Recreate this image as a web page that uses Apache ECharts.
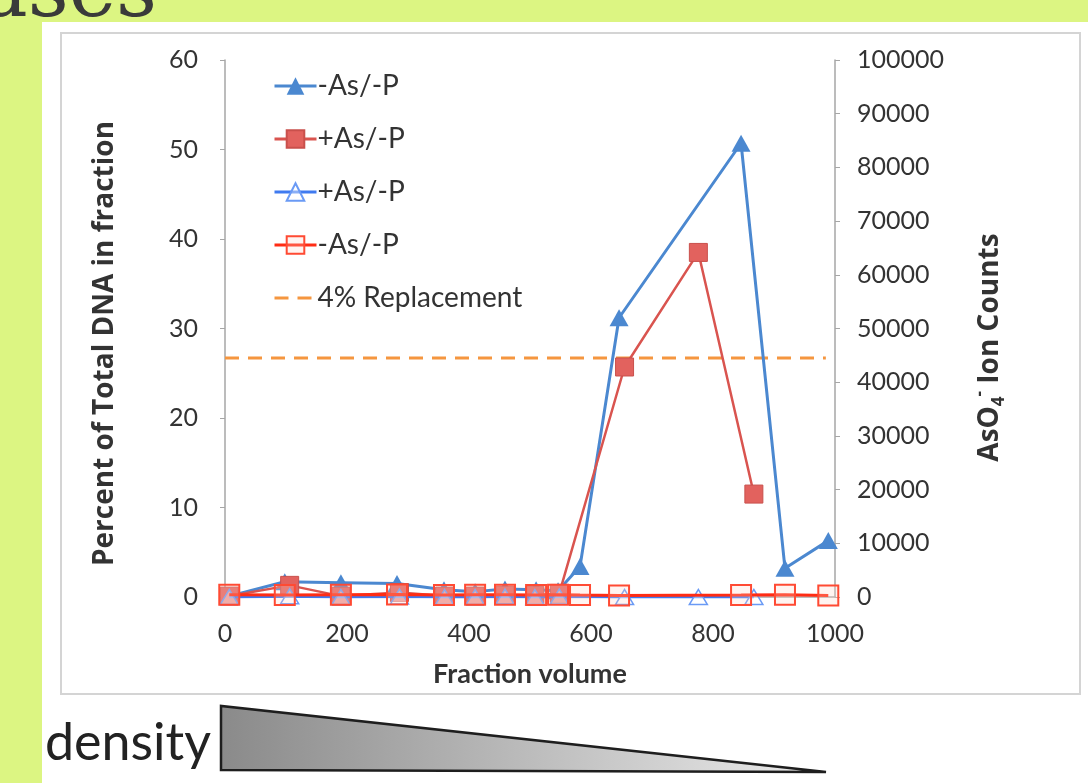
<!DOCTYPE html>
<html><head><meta charset="utf-8">
<script src="https://cdn.jsdelivr.net/npm/echarts@6.0.0/dist/echarts.min.js"></script>
<style>html,body{margin:0;padding:0;background:#dcf582;}#c{width:1088px;height:783px;}</style>
</head><body><div id="c"></div>
<script>
// Fraction volumes (x) for each condition
const minusAsX   = [7, 98, 190, 282, 359, 410, 459, 510, 546, 582, 646, 846, 918, 989];
const minusAsDNA = [0.1, 1.7, 1.6, 1.5, 0.8, 0.6, 0.9, 0.8, 0.7, 3.4, 31.2, 50.7, 3.2, 6.3];
const minusAsIon = [400, 350, 400, 450, 350, 400, 400, 350, 400, 350, 300, 350, 400, 300];

const plusAsX    = [7, 106, 190, 286, 360, 410, 459, 508, 548, 655, 776, 867];
const plusAsDNA  = [0.1, 1.3, 0.1, 0.5, 0.1, 0.1, 0.2, 0.2, 0.4, 25.7, 38.5, 11.5];
const plusAsIon  = [0, 150, 0, 100, 0, 0, 100, 0, 100, 0, 0, 0];

const replacementX = [0, 985];
const replacementY = [44500, 44500];

const xTicks = [0, 200, 400, 600, 800, 1000];
const legendLabels = {a: '-As/-P', b: '+As/-P', c: '+As/-P', d: '-As/-P', rep: '4% Replacement'};

const pairs = (xs, ys) => xs.map((x, i) => [x, ys[i]]);

const FONT = 'Lato, "Open Sans", sans-serif';
const VFONT = '"Open Sans", Lato, sans-serif';
const TXT = '#333333';
const chart = echarts.init(document.getElementById('c'));
chart.setOption({
  animation: false,
  backgroundColor: 'transparent',
  textStyle: {fontFamily: FONT},
  graphic: [
    {type: 'rect', z: -20, shape: {x: 42, y: 22, width: 1046, height: 761}, style: {fill: '#ffffff'}},
    {type: 'rect', z: -19, shape: {x: 61, y: 33, width: 1019, height: 661}, style: {fill: 'none', stroke: '#d4d4d4', lineWidth: 2}},
    {type: 'text', z: 5, style: {text: 'ases', x: -20, y: -5, fill: '#3a3a3a', font: '80px "DejaVu Serif", serif', verticalAlign: 'middle'}},
    {type: 'text', z: 5, style: {text: 'density', x: 45, y: 743, fill: '#222', font: '52px Lato, sans-serif', verticalAlign: 'middle'}},
    {type: 'polygon', z: 5, shape: {points: [[221, 706], [221, 770], [826, 772]]},
      style: {fill: new echarts.graphic.LinearGradient(0, 0, 1, 0, [{offset: 0, color: '#8a8a8a'}, {offset: 1, color: '#ececec'}]), stroke: '#1e1e1e', lineWidth: 2.5}}
  ],
  grid: {left: 225, right: 253, top: 60, bottom: 186, containLabel: false},
  legend: {
    orient: 'vertical', left: 268, top: 67, itemWidth: 42, itemHeight: 22, itemGap: 25,
    data: ['a', 'b', 'c', 'd', {name: 'rep', itemStyle: {opacity: 0}}],
    formatter: n => legendLabels[n],
    lineStyle: {width: 3},
    textStyle: {fontSize: 28, color: TXT, fontFamily: FONT, padding: [0, 0, 0, -4]}
  },
  xAxis: {
    type: 'value', min: 0, max: 1000, interval: 200,
    name: 'Fraction volume', nameLocation: 'middle', nameGap: 64,
    nameTextStyle: {fontSize: 27, fontWeight: 'bold', color: '#333', fontFamily: FONT},
    axisLine: {lineStyle: {color: '#a6a6a6', width: 1.5}},
    axisTick: {show: false},
    axisLabel: {fontSize: 25, color: TXT, margin: 24, formatter: v => xTicks.includes(v) ? String(v) : ''},
    splitLine: {show: false}
  },
  yAxis: [
    {
      type: 'value', min: 0, max: 60, interval: 10, position: 'left',
      name: 'Percent of Total DNA in fraction', nameLocation: 'middle', nameGap: 106, nameRotate: 90,
      nameTextStyle: {fontSize: 28, fontWeight: 'bold', color: '#333', fontFamily: VFONT, padding: [0, 30, 0, 0]},
      axisLine: {show: true, lineStyle: {color: '#a6a6a6', width: 1.5}},
      axisTick: {show: true, length: 5, lineStyle: {color: '#a6a6a6'}},
      axisLabel: {fontSize: 25, color: TXT, margin: 27},
      splitLine: {show: false}
    },
    {
      type: 'value', min: 0, max: 100000, interval: 10000, position: 'right',
      name: '{t|AsO}{sub|4}{sup|-}{t| Ion Counts}', nameLocation: 'middle', nameGap: 141, nameRotate: 90,
      nameTextStyle: {fontSize: 28, fontWeight: 'bold', color: '#333', fontFamily: VFONT, padding: [0, 38, 0, 0],
        rich: {
          t: {fontSize: 28, fontWeight: 'bold', color: '#333', fontFamily: VFONT},
          sub: {fontSize: 17, fontWeight: 'bold', color: '#333', fontFamily: VFONT, verticalAlign: 'bottom', padding: [0, 0, -4, 0]},
          sup: {fontSize: 17, fontWeight: 'bold', color: '#333', fontFamily: VFONT, verticalAlign: 'top', padding: [-4, 0, 0, 0]}
        }},
      axisLine: {show: true, lineStyle: {color: '#a6a6a6', width: 1.5}},
      axisTick: {show: true, length: 5, lineStyle: {color: '#a6a6a6'}},
      axisLabel: {fontSize: 25, color: TXT, margin: 22, formatter: v => String(v)},
      splitLine: {show: false}
    }
  ],
  series: [
    {
      name: 'rep', type: 'line', yAxisIndex: 1, z: 1, symbol: 'none',
      data: pairs(replacementX, replacementY),
      lineStyle: {color: '#f5963f', width: 3, type: [14, 9]},
      itemStyle: {color: '#f5963f'}
    },
    {
      name: 'a', type: 'line', yAxisIndex: 0, z: 3, symbol: 'triangle', symbolSize: [19, 17],
      data: pairs(minusAsX, minusAsDNA),
      lineStyle: {color: '#4b88d0', width: 3},
      itemStyle: {color: '#4b88d0'}
    },
    {
      name: 'b', type: 'line', yAxisIndex: 0, z: 4, symbol: 'rect', symbolSize: 18,
      data: pairs(plusAsX, plusAsDNA),
      lineStyle: {color: '#d9544f', width: 2.5},
      itemStyle: {color: '#e2625e', borderColor: '#c9504c', borderWidth: 1}
    },
    {
      name: 'c', type: 'line', yAxisIndex: 1, z: 5, symbol: 'triangle', symbolSize: [18, 15],
      data: pairs(plusAsX, plusAsIon),
      lineStyle: {color: '#3f7af0', width: 3},
      itemStyle: {color: 'rgba(255,255,255,0.4)', borderColor: '#6a9af5', borderWidth: 1.5}
    },
    {
      name: 'd', type: 'line', yAxisIndex: 1, z: 6, symbol: 'rect', symbolSize: 20,
      data: pairs(minusAsX, minusAsIon),
      lineStyle: {color: '#ff2c14', width: 3},
      itemStyle: {color: 'rgba(255,210,200,0.25)', borderColor: '#ff4a33', borderWidth: 2}
    }
  ]
});
</script></body></html>
